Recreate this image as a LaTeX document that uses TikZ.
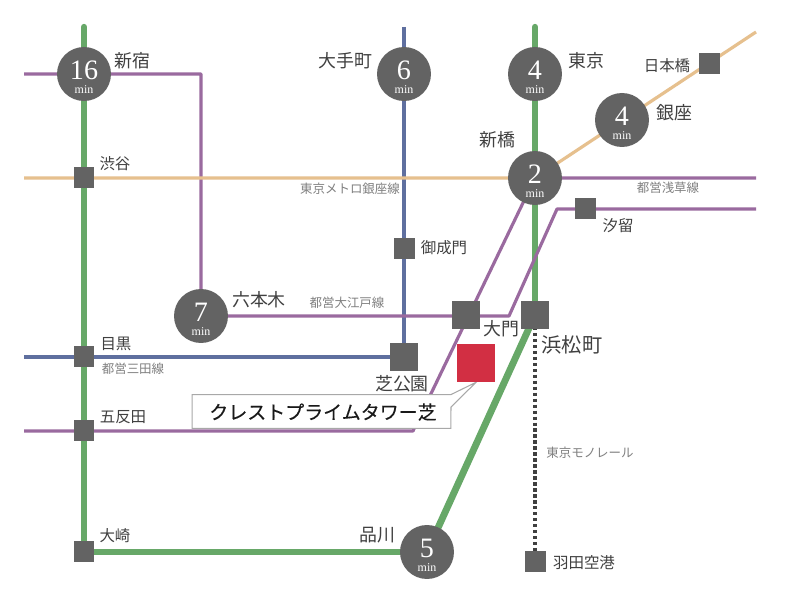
\documentclass[tikz,border=0pt]{standalone}
\usepackage{fontspec}
\setmainfont{Liberation Serif}
\newfontfamily\cjk{Noto Sans CJK JP}
\newfontfamily\cjkcrest[FakeBold=0.3]{Noto Sans CJK JP}
\usetikzlibrary{backgrounds}
\definecolor{stationgray}{HTML}{636363}
\definecolor{jrgreen}{HTML}{67A868}
\definecolor{oedopurple}{HTML}{9A6A9F}
\definecolor{mitablue}{HTML}{5F6F9F}
\definecolor{ginzatan}{HTML}{E6C08E}
\definecolor{siteRed}{HTML}{D22F43}
\definecolor{boxgray}{HTML}{A8A8A8}
\tikzset{
  timecircle/.style={circle, fill=stationgray, text=white, minimum size=1.08cm, inner sep=0pt, align=center},
  smallbox/.style={fill=stationgray, minimum size=0.42cm, inner sep=0pt},
  bigbox/.style={fill=stationgray, minimum size=0.57cm, inner sep=0pt},
  sitebox/.style={fill=siteRed, minimum size=0.76cm, inner sep=0pt},
  bigname/.style={inner sep=0pt, text=black!75, font=\cjk\fontsize{10.2}{11}\selectfont},
  smallname/.style={inner sep=0pt, text=black!75, font=\cjk\fontsize{8.8}{10}\selectfont},
  linename/.style={inner sep=0pt, text=black!50, font=\cjk\fontsize{7.1}{8}\selectfont},
  crestname/.style={inner sep=0pt, text=black!90, font=\cjkcrest\fontsize{10.8}{12}\selectfont},
  jrline/.style={draw=jrgreen, line width=3.6pt, line join=round},
  oedoline/.style={draw=oedopurple, line width=1.8pt, line join=round},
  mitaline/.style={draw=mitablue, line width=1.8pt},
  ginzaline/.style={draw=ginzatan, line width=1.8pt},
  monoline/.style={draw=black!75, line width=2.2pt, dash pattern=on 1.9pt off 1.5pt}
}
\newcommand{\mintext}[1]{\fontsize{16}{14}\selectfont\rule{0pt}{14pt}#1\\[-4pt]\fontsize{6.8}{7}\selectfont min}
\begin{document}
\begin{tikzpicture}[x=0.02cm, y=-0.02cm]
\useasboundingbox (0,0) rectangle (785,607);

\node [timecircle] at (84,74) (shinjuku) {\mintext{16}};
\node [timecircle] at (404,74) (otemachi) {\mintext{6}};
\node [timecircle] at (535,74) (tokyo) {\mintext{4}};
\node [timecircle] at (622,120) (ginza) {\mintext{4}};
\node [timecircle] at (535,178) (shimbashi) {\mintext{2}};
\node [timecircle] at (201,316) (roppongi) {\mintext{7}};
\node [timecircle] at (427,552) (shinagawa) {\mintext{5}};

\node [smallbox] at (84,178) (shibuya) {};
\node [smallbox] at (84,357) (meguro) {};
\node [smallbox] at (84,431) (gotanda) {};
\node [smallbox] at (84,552) (osaki) {};
\node [smallbox] at (404,249) (onarimon) {};
\node [smallbox] at (585,209) (shiodome) {};
\node [smallbox] at (709,64) (nihombashi) {};
\node [smallbox] at (535,562) (haneda) {};
\node [bigbox] at (404,357) (shibakoen) {};
\node [bigbox] at (466,315) (daimon) {};
\node [bigbox] at (535,315) (hamamatsucho) {};
\node [sitebox] at (476,363) (site) {};

\coordinate (jrtopleft) at (84,27);
\coordinate (jrtopright) at (535,27);
\coordinate (mitatop) at (404,27);
\coordinate (mitaleft) at (24,357);
\coordinate (ginzaleft) at (24,178);
\coordinate (ginzaright) at (756,32);
\coordinate (oedoleft) at (24,74);
\coordinate (oedocorner) at (201,74);
\coordinate (oedobendlow) at (509,316);
\coordinate (oedobendhigh) at (557,209);
\coordinate (oedoright) at (756,209);
\coordinate (asakusaleft) at (24,431);
\coordinate (asakusabend) at (413,431);
\coordinate (asakusaright) at (756,178);
\coordinate (crestbase) at (451,407);

\begin{scope}[on background layer]
\fill [white] (0,0) rectangle (785,607);
\draw [jrline, line cap=round] (jrtopleft) -- (osaki.center);
\draw [jrline, line cap=round] (jrtopright) -- (hamamatsucho.center);
\draw [jrline] (osaki.center) -- (shinagawa.center);
\draw [jrline, line width=3.9pt] (shinagawa.center) -- (hamamatsucho.center);
\draw [mitaline] (mitatop) -- (shibakoen.center);
\draw [mitaline] (mitaleft) -- (shibakoen.center);
\draw [oedoline] (oedoleft) -- (oedocorner) -- (roppongi.center) -- (oedobendlow) -- (oedobendhigh) -- (oedoright);
\draw [oedoline] (asakusaleft) -- (asakusabend) -- (shimbashi.center) -- (asakusaright);
\draw [ginzaline] (ginzaleft) -- (shimbashi.center) -- (ginzaright);
\draw [monoline] (hamamatsucho.center) -- (haneda.center);
\node [minimum width=5.16cm, minimum height=0.66cm] at (321.5,411.5) (crestbox) {};
\draw [fill=white, draw=boxgray, line width=0.6pt] (crestbox.north west) -- (crestbox.north east) -- (site.south) -- (crestbase) -- (crestbox.south east) -- (crestbox.south west) -- cycle;
\end{scope}

\node [crestname] at (323,412) (crest) {クレストプライムタワー芝};

\node [bigname] at (132.5,61) (shinjukuname) {新宿};
\node [bigname] at (345.5,61) (otemachiname) {大手町};
\node [bigname] at (586,61) (tokyoname) {東京};
\node [bigname] at (674,113) (ginzaname) {銀座};
\node [bigname] at (497,140) (shimbashiname) {新橋};
\node [bigname] at (259,300) (ropponginame) {六本木};
\node [bigname] at (501,329) (daimonname) {大門};
\node [bigname] at (402,384) (shibakoenname) {芝公園};
\node [bigname, font=\cjk\fontsize{11.5}{12}\selectfont] at (572,345) (hamamatsuchoname) {浜松町};
\node [bigname] at (377,535) (shinagawaname) {品川};

\node [smallname] at (115,164) (shibuyaname) {渋谷};
\node [smallname] at (667,66) (nihombashiname) {日本橋};
\node [smallname] at (618,226) (shiodomename) {汐留};
\node [smallname] at (444,248) (onarimonname) {御成門};
\node [smallname] at (116,344) (meguroname) {目黒};
\node [smallname] at (123,417) (gotandaname) {五反田};
\node [smallname] at (115,536) (osakiname) {大崎};
\node [smallname] at (584,563) (hanedaname) {羽田空港};

\node [linename] at (350,189) (ginzaline) {東京メトロ銀座線};
\node [linename] at (668,188) (asakusaline) {都営浅草線};
\node [linename] at (347,303) (oedoline) {都営大江戸線};
\node [linename] at (133,369) (mitaline) {都営三田線};
\node [linename] at (590,453) (monorail) {東京モノレール};
\end{tikzpicture}
\end{document}
